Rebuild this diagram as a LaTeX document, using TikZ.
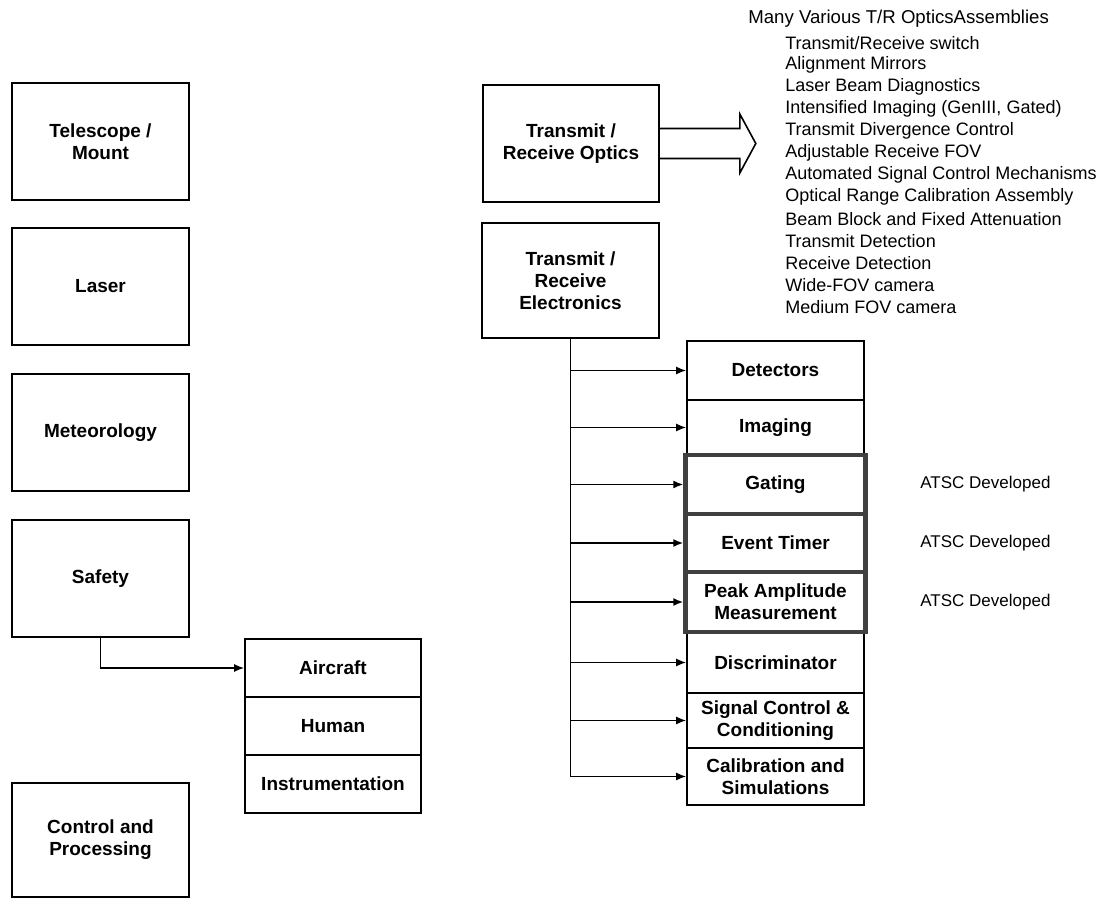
\documentclass[tikz,border=0pt]{standalone}
\usepackage{fontspec}
\setmainfont{Liberation Sans}
\usetikzlibrary{arrows.meta}

\tikzset{
	block/.style={draw, line width=0.8pt, minimum width=88.5pt, minimum height=58.5pt, align=center, font=\bfseries\fontsize{9.5}{11}\selectfont},
	cell/.style={draw, line width=0.8pt, minimum width=88.5pt, inner sep=1pt, align=center, font=\bfseries\fontsize{9.5}{11}\selectfont},
	devcell/.style={cell, draw=black!75, line width=2.2pt, minimum width=90pt},
	feed/.style={-{Latex[length=5pt,width=4pt]}, line width=0.8pt},
	note/.style={anchor=west, inner sep=0pt, font=\fontsize{9}{11}\selectfont},
}

\begin{document}
\begin{tikzpicture}[x=0.5pt, y=-0.5pt]
		\useasboundingbox (0,0) rectangle (1120,899);

		% left column
		\node[block] (TELESCOPE) at (100.5,141.5) {Telescope /\\Mount};
		\node[block] (LASER) at (100.5,286.5) {Laser};
		\node[block] (METEO) at (100.5,432.5) {Meteorology};
		\node[block] (SAFETY) at (100.5,578.5) {Safety};
		\node[block, minimum height=57pt] (CONTROL) at (100.5,840) {Control and\\Processing};

		% safety breakdown
		\node[cell, minimum width=88pt, minimum height=29pt] (AIRCRAFT) at (333,668) {Aircraft};
		\node[cell, minimum width=88pt, minimum height=29pt] (HUMAN) at (333,726) {Human};
		\node[cell, minimum width=88pt, minimum height=29pt] (INSTR) at (333,784) {Instrumentation};
		\draw [feed] (SAFETY.south) |- (AIRCRAFT.west);

		% transmit / receive
		\node[block, minimum width=88pt] (OPTICS) at (571,143.5) {Transmit /\\Receive Optics};
		\node[block, minimum height=57.5pt] (ELEC) at (570.5,280.5) {Transmit /\\Receive\\Electronics};

		\begin{scope}[shift={(OPTICS.east)}]
			\draw [line width=0.8pt, line join=miter] (0,-15) -- (80,-15) -- (80,-29.5) -- (96,0) -- (80,29.5) -- (80,15) -- (0,15);
		\end{scope}

		\node[note, font=\fontsize{9.3}{11}\selectfont] (MANY) at (748,19) {Many Various T/R OpticsAssemblies};
		\foreach \item [count=\i from 0] in {Transmit/Receive switch, Alignment Mirrors, Laser Beam Diagnostics,
				{Intensified Imaging (GenIII, Gated)}, Transmit Divergence Control, Adjustable Receive FOV,
				Automated Signal Control Mechanisms, Optical Range Calibration Assembly,
				Beam Block and Fixed Attenuation, Transmit Detection, Receive Detection,
				Wide-FOV camera, Medium FOV camera}
			\node[note] (OPT\i) at (785,43+22*\i) {\item};

		% electronics breakdown
		\node[cell, minimum height=29.5pt] (DET) at (775.5,370.5) {Detectors};
		\node[cell, minimum height=27.5pt] (IMG) at (775.5,427.5) {Imaging};
		\node[cell, minimum height=30.5pt] (DISC) at (775.5,662.5) {Discriminator};
		\node[cell, minimum height=27.5pt] (SIG) at (775.5,720.5) {Signal Control \&\\Conditioning};
		\node[cell, minimum height=28.5pt] (CAL) at (775.5,776.5) {Calibration and\\Simulations};
		\node[devcell, minimum height=29.5pt] (GATE) at (775.5,484.5) {Gating};
		\node[devcell, minimum height=29pt] (TIMER) at (775.5,543) {Event Timer};
		\node[devcell, minimum height=30pt] (PEAK) at (775.5,602) {Peak Amplitude\\Measurement};

		\draw [line width=0.8pt] (ELEC.south) -- (ELEC.south |- CAL.west);
		\foreach \n in {DET,IMG,GATE,TIMER,PEAK,DISC,SIG,CAL}
			\draw [feed] (ELEC.south |- \n.west) -- (\n.west);

		\foreach \n in {GATE,TIMER,PEAK}
			\node[note, font=\fontsize{8.5}{11}\selectfont] at (920,0 |- \n.east) {ATSC Developed};

\end{tikzpicture}
\end{document}
